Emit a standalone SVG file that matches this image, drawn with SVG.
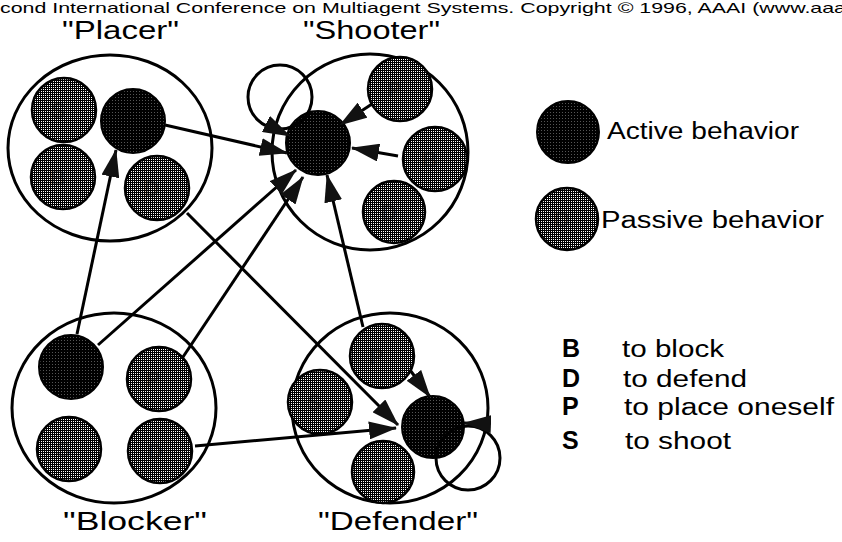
<svg xmlns="http://www.w3.org/2000/svg" width="842" height="542" viewBox="0 0 842 542">
<defs>
<pattern id="pas" patternUnits="userSpaceOnUse" width="2" height="2"><rect width="2" height="2" fill="#000"/><rect x="1" y="1" width="1" height="1" fill="#fff"/></pattern>
<pattern id="act" patternUnits="userSpaceOnUse" width="3" height="3"><rect width="3" height="3" fill="#000"/><rect x="1" y="1" width="1" height="1" fill="#555"/></pattern>
<marker id="ah" viewBox="0 0 28 18" markerWidth="28" markerHeight="18" markerUnits="userSpaceOnUse" orient="auto" refX="27" refY="9"><path d="M0,0 L28,9 L0,18 Z" fill="#111"/></marker>
<style>
.grp{fill:none;stroke:#000;stroke-width:3}
.pas{fill:url(#pas);stroke:#000;stroke-width:2.5}
.act{fill:url(#act);stroke:#000;stroke-width:2}
.lt{font-family:"Liberation Sans",Arial,sans-serif;font-size:22px;font-weight:bold;fill:#000;fill-opacity:0.3}
.ttl{font-family:"Liberation Sans",Arial,sans-serif;font-size:26px;fill:#000}
.leg{font-family:"Liberation Sans",Arial,sans-serif;font-size:23px;fill:#000}
.key{font-family:"Liberation Sans",Arial,sans-serif;font-size:25px;font-weight:bold;fill:#000}
.con{fill:none;stroke:#000;stroke-width:3}
.loop{fill:none;stroke:#000;stroke-width:3}
</style>
</defs>
<rect width="842" height="542" fill="#fff"/>
<text x="0" y="13" font-family="'Liberation Sans',Arial,sans-serif" font-size="15" textLength="846" lengthAdjust="spacingAndGlyphs">cond International Conference on Multiagent Systems. Copyright © 1996, AAAI (www.aaa</text>

<g id="placer">
<text class="ttl" x="62" y="39" textLength="117" lengthAdjust="spacingAndGlyphs">"Placer"</text>
<ellipse class="grp" cx="110" cy="148" rx="102" ry="93"/>
<circle class="pas" cx="64" cy="110" r="32"/><text class="lt" x="51" y="118">S</text>
<circle class="act" cx="133" cy="121" r="32"/>
<circle class="pas" cx="63" cy="177" r="32"/><text class="lt" x="50" y="185">B</text>
<circle class="pas" cx="157" cy="188" r="32"/><text class="lt" x="144" y="196">D</text>
</g>

<g id="shooter">
<text class="ttl" x="303" y="39" textLength="137" lengthAdjust="spacingAndGlyphs">"Shooter"</text>
<ellipse class="grp" cx="370" cy="152" rx="98" ry="98"/>
<circle class="act" cx="318" cy="143" r="32"/>
<circle class="pas" cx="400" cy="89" r="32"/><text class="lt" x="387" y="97">P</text>
<circle class="pas" cx="435" cy="159" r="32"/><text class="lt" x="422" y="167">B</text>
<circle class="pas" cx="394" cy="212" r="31"/><text class="lt" x="381" y="220">D</text>
</g>

<g id="blocker">
<text class="ttl" x="63" y="530" textLength="144" lengthAdjust="spacingAndGlyphs">"Blocker"</text>
<ellipse class="grp" cx="114" cy="408" rx="102" ry="95"/>
<circle class="act" cx="71" cy="367" r="32"/>
<circle class="pas" cx="159" cy="379" r="32"/><text class="lt" x="146" y="387">P</text>
<circle class="pas" cx="69" cy="449" r="32"/><text class="lt" x="56" y="457">S</text>
<circle class="pas" cx="160" cy="451" r="32"/><text class="lt" x="147" y="459">D</text>
</g>

<g id="defender">
<text class="ttl" x="318" y="530" textLength="160" lengthAdjust="spacingAndGlyphs">"Defender"</text>
<ellipse class="grp" cx="390" cy="408" rx="98" ry="95"/>
<circle class="pas" cx="382" cy="356" r="32"/><text class="lt" x="369" y="364">P</text>
<circle class="pas" cx="320" cy="402" r="32"/><text class="lt" x="307" y="410">S</text>
<circle class="pas" cx="383" cy="472" r="31"/><text class="lt" x="370" y="480">B</text>
<circle class="act" cx="433" cy="427" r="31"/>
</g>

<g id="connectors">
<circle class="loop" cx="280" cy="97" r="32"/>
<line class="con" x1="266" y1="124" x2="290" y2="136" marker-end="url(#ah)"/>
<line class="con" x1="165" y1="125" x2="287" y2="153" marker-end="url(#ah)"/>
<line class="con" x1="372" y1="104" x2="340" y2="125" marker-end="url(#ah)"/>
<line class="con" x1="398" y1="156" x2="352" y2="148" marker-end="url(#ah)"/>
<line class="con" x1="98" y1="345" x2="296" y2="170" marker-end="url(#ah)"/>
<line class="con" x1="183" y1="357" x2="303" y2="177" marker-end="url(#ah)"/>
<line class="con" x1="363" y1="327" x2="327" y2="175" marker-end="url(#ah)"/>
<line class="con" x1="77" y1="334" x2="116" y2="150" marker-end="url(#ah)"/>
<line class="con" x1="187" y1="213" x2="398" y2="425" marker-end="url(#ah)"/>
<line class="con" x1="195" y1="446" x2="396" y2="428" marker-end="url(#ah)"/>
<line class="con" x1="410" y1="370" x2="430" y2="397" marker-end="url(#ah)"/>
<circle class="loop" cx="468" cy="458" r="32"/>
<line class="con" x1="488" y1="424" x2="464" y2="423" marker-end="url(#ah)"/>
</g>

<g id="legend">
<circle class="act" cx="568" cy="132" r="31"/>
<text class="leg" x="607" y="139" textLength="192" lengthAdjust="spacingAndGlyphs">Active behavior</text>
<circle class="pas" cx="567" cy="219" r="31"/><text class="lt" x="554" y="227">D</text>
<text class="leg" x="601" y="228" textLength="223" lengthAdjust="spacingAndGlyphs">Passive behavior</text>
<text class="key" x="562" y="357">B</text><text class="leg" x="622" y="357" font-size="24" textLength="102" lengthAdjust="spacingAndGlyphs">to block</text>
<text class="key" x="562" y="387">D</text><text class="leg" x="623" y="387" font-size="24" textLength="124" lengthAdjust="spacingAndGlyphs">to defend</text>
<text class="key" x="562" y="415">P</text><text class="leg" x="624" y="415" font-size="24" textLength="210" lengthAdjust="spacingAndGlyphs">to place oneself</text>
<text class="key" x="562" y="449">S</text><text class="leg" x="625" y="449" font-size="24" textLength="106" lengthAdjust="spacingAndGlyphs">to shoot</text>
</g>
</svg>
